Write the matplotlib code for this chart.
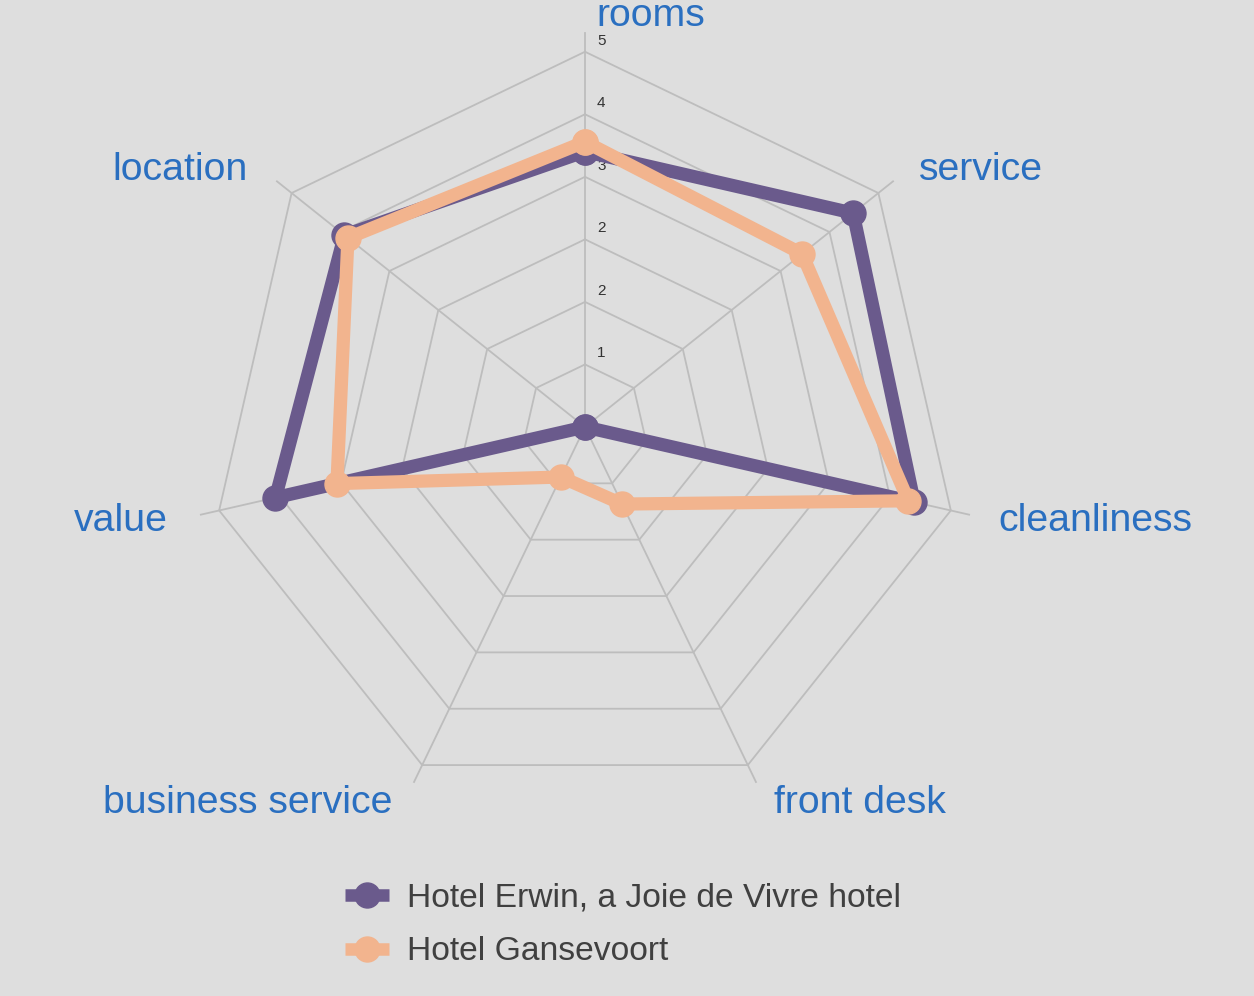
import numpy as np
import matplotlib
matplotlib.use("Agg")
import matplotlib.pyplot as plt
from matplotlib.lines import Line2D
import matplotlib.transforms as mtransforms

plt.rcParams['font.family'] = ['Liberation Sans', 'DejaVu Sans']

categories = ["rooms", "service", "cleanliness", "front desk",
              "business service", "value", "location"]
erwin = [3.67, 4.57, 4.50, 0.0, 0.0, 4.23, 4.10]
gansevoort = [3.80, 3.70, 4.42, 1.14, 0.74, 3.39, 4.04]
series_names = ["Hotel Erwin, a Joie de Vivre hotel", "Hotel Gansevoort"]
ring_values = [5 / 6 * k for k in range(1, 7)]
ring_labels = ["1", "2", "2", "3", "4", "5"]

BG = "#DEDEDE"
GRID = "#BDBDBD"
PURPLE = "#6A5A8C"
ORANGE = "#F2B48E"
BLUE = "#2A6FC0"
RMAX = 5.25

fig = plt.figure(figsize=(12.54, 9.96), dpi=100, facecolor=BG)
ax = fig.add_axes([0.1523, 0.1757, 0.6284, 0.7912], projection="polar")
ax.patch.set_visible(False)
ax.set_theta_offset(np.pi / 2)
ax.set_theta_direction(-1)
ax.set_ylim(0, RMAX)
ax.grid(False)
ax.spines['polar'].set_visible(False)
ax.set_xticks([])
ax.set_yticks([])

n = len(categories)
theta = np.linspace(0, 2 * np.pi, n, endpoint=False)
closed = np.append(theta, theta[0])

for rv in ring_values:
    ax.plot(closed, [rv] * (n + 1), color=GRID, lw=1.3, zorder=1, clip_on=False)
for t in theta:
    ax.plot([t, t], [0, RMAX], color=GRID, lw=1.3, zorder=1, clip_on=False)

for rv, lbl in zip(ring_values, ring_labels):
    ax.annotate(lbl, xy=(0, rv), xytext=(12, 11), textcoords='offset pixels',
                ha='left', va='center', fontsize=11, color='#333333')

for vals, col, z in [(erwin, PURPLE, 3), (gansevoort, ORANGE, 4)]:
    v = np.append(vals, vals[0])
    ax.plot(closed, v, color=col, lw=9.5, marker='o', markersize=18,
            solid_joinstyle='round', zorder=z, clip_on=False)

for t, cat in zip(theta, categories):
    s = np.sin(t)
    if s > 0.1:
        ha, dx, dy = 'left', 9, -2
    elif s < -0.1:
        ha, dx, dy = 'right', -13, -2
    else:
        ha, dx, dy = 'left', 11, -4
    tr = ax.transData + mtransforms.ScaledTranslation(dx / 100, dy / 100, fig.dpi_scale_trans)
    ax.text(t, 5.53, cat, transform=tr, ha=ha, va='center', fontsize=28.3,
            color=BLUE, clip_on=False)

handles = [Line2D([], [], color=PURPLE, lw=9, marker='o', markersize=18,
                  solid_capstyle='butt'),
           Line2D([], [], color=ORANGE, lw=9, marker='o', markersize=18,
                  solid_capstyle='butt')]
leg = fig.legend(handles, series_names, loc='center', bbox_to_anchor=(0.497, 0.0713),
                 frameon=False, fontsize=24.2, handlelength=1.3, handletextpad=0.55,
                 labelspacing=0.68)
for txt in leg.get_texts():
    txt.set_color('#404040')

fig.savefig("out.png", dpi=100, facecolor=BG)
